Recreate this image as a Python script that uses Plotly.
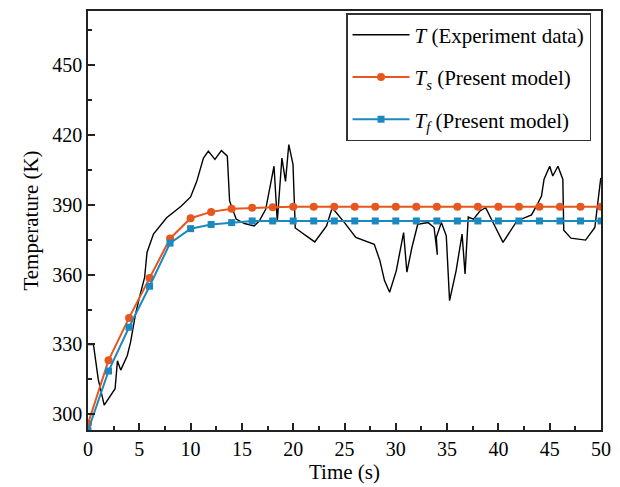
import plotly.graph_objects as go

# Experimental data (black line)
t_exp = [0.0, 0.53, 1.0, 1.58, 2.64, 2.87, 3.19, 3.83, 4.15, 4.63, 5.1, 5.52, 5.75, 6.38, 7.66, 9.1, 10.0,
         10.6, 11.25, 11.73, 12.37, 13.0, 13.58, 13.8, 14.44, 15.25, 16.2, 16.69, 17.32, 18.13, 18.45,
         18.9, 19.25, 19.57, 19.98, 20.2, 22.1, 23.25, 23.8, 25.0, 26.1, 27.9, 28.45, 28.9, 29.4, 30.05,
         30.76, 31.08, 31.57, 32.14, 33.16, 33.73, 34.05, 33.95, 34.44, 34.92, 35.24, 35.88, 36.46, 36.75,
         37.06, 37.57, 38.2, 38.76, 39.56, 40.45, 41.8, 43.23, 43.8, 44.2, 44.45, 45.0, 45.3, 45.8, 46.28,
         46.37, 47.07, 48.5, 49.4, 49.98]
T_exp = [330, 330, 315, 304, 311, 323, 319, 325.3, 331, 343, 351.7, 358.8, 369.5, 377.4, 384.4, 389.4, 393.3,
         400, 410, 413, 409.4, 413.2, 410.8, 391.6, 383.8, 381.9, 380.9, 383, 388, 406.5, 383,
         410, 400, 415.8, 407.3, 380, 374, 380.9, 388.7, 382.3, 375.9, 373, 366, 357.4, 352.4, 361.7,
         378, 361, 371.6, 381.6, 382.3, 380.2, 368.5, 376, 382.3, 376.6, 348.8, 361.7, 377.4, 360.3,
         384.7, 383.8, 387.3, 388.7, 381.6, 373.8, 383, 385.6, 390.2, 393.7, 400.9, 406.5, 402.3, 406.5, 400.9,
         379, 375.6, 374.8, 380.2, 401.5]

# Model results (every 2 s)
t_model = [0, 2, 4, 6, 8, 10, 12, 14, 16, 18, 20, 22, 24, 26, 28, 30, 32, 34, 36, 38, 40, 42, 44, 46, 48, 50]
T_s = [296, 323.2, 341.4, 358.5, 375.5, 384.2, 386.9, 388.2, 388.7, 388.9, 389.1, 389.1, 389.1, 389.1, 389.1,
       389.1, 389.1, 389.1, 389.1, 389.1, 389.1, 389.1, 389.1, 389.1, 389.1, 389.1]
T_f = [293, 318.6, 337.4, 355.0, 373.5, 379.7, 381.5, 382.3, 383.0, 383.0, 383.0, 383.0, 383.0, 383.0, 383.0,
       383.0, 383.0, 383.0, 383.0, 383.0, 383.0, 383.0, 383.0, 383.0, 383.0, 383.0]

x_ticks = [0, 5, 10, 15, 20, 25, 30, 35, 40, 45, 50]
y_ticks = [300, 330, 360, 390, 420, 450]

FONT = "Liberation Serif, Times New Roman, serif"
ORANGE = "#E8561F"
BLUE = "#1C88C0"

fig = go.Figure()
fig.add_trace(go.Scatter(x=t_exp, y=T_exp, mode="lines", line=dict(color="black", width=1.4),
                         name="<i>T</i> (Experiment data)", legendgroup="a"))
fig.add_trace(go.Scatter(x=t_model, y=T_s, mode="lines+markers", line=dict(color=ORANGE, width=2),
                         marker=dict(symbol="circle", size=8, color=ORANGE),
                         name="<i>T<sub>s</sub></i> (Present model)", legendgroup="b"))
fig.add_trace(go.Scatter(x=t_model, y=T_f, mode="lines+markers", line=dict(color=BLUE, width=2),
                         marker=dict(symbol="square", size=7, color=BLUE),
                         name="<i>T<sub>f</sub></i> (Present model)", legendgroup="c"))

axis_common = dict(showline=True, linecolor="#222", linewidth=1.5, mirror=True, showgrid=False,
                   zeroline=False, ticks="inside", ticklen=7, tickwidth=1.5, tickcolor="#222",
                   tickfont=dict(family=FONT, size=20, color="black"))

fig.update_xaxes(range=[0, 50], tickvals=x_ticks, ticktext=[str(v) for v in x_ticks],
                 minor=dict(ticks="inside", ticklen=4, tickwidth=1.5, tickcolor="#222", dtick=2.5, tick0=0),
                 title=dict(text="Time (s)", font=dict(family=FONT, size=21, color="black"), standoff=4),
                 **axis_common)
fig.update_yaxes(range=[293.3, 473.1], tickvals=y_ticks, ticktext=[str(v) for v in y_ticks],
                 minor=dict(ticks="inside", ticklen=4, tickwidth=1.5, tickcolor="#222", dtick=15, tick0=300),
                 title=dict(text="Temperature (K)", font=dict(family=FONT, size=21, color="black"), standoff=8),
                 **axis_common)

fig.update_layout(
    width=620, height=487,
    margin=dict(l=88, r=11, t=9, b=57),
    paper_bgcolor="white", plot_bgcolor="white",
    font=dict(family=FONT, color="black"),
    legend=dict(x=0.503, y=0.995, xanchor="left", yanchor="top",
                bgcolor="white", bordercolor="#333", borderwidth=1.5,
                font=dict(family=FONT, size=21, color="black"),
                tracegroupgap=12, itemwidth=57),
)

fig.write_html("out.html", config={"displayModeBar": False},
               post_script="document.body.style.margin='0';")
